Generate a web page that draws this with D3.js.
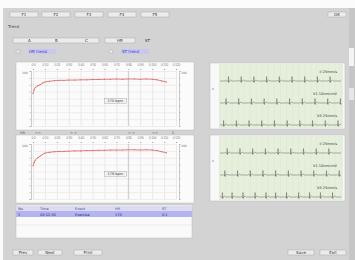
<!DOCTYPE html>
<html>
<head>
<meta charset="utf-8">
<script src="https://cdn.jsdelivr.net/npm/d3@7"></script>
<style>
  body { margin: 0; background: #fff; }
  svg { display: block; font-family: "DejaVu Sans", sans-serif; }
</style>
</head>
<body>
<script>
// trend data (minutes, rate)
var trendTimes = [0, 1, 2, 4, 6, 8, 10, 14, 18, 22, 26, 30, 35, 40, 45, 50, 55, 60, 65, 70, 75, 80, 85, 90, 95, 100, 104, 108, 112];
var trendA = [118, 132, 140, 146, 150, 156, 160, 163, 165, 166, 166, 167, 167, 168, 168, 169, 169, 170, 170, 171, 170, 171, 171, 170, 171, 170, 168, 164, 160];
var trendB = [121, 134, 142, 150, 156, 162, 167, 170, 172, 173, 173, 174, 175, 175, 176, 176, 177, 177, 178, 178, 178, 179, 179, 178, 179, 178, 176, 172, 168];
var xTicks = [0, 10, 20, 30, 40, 50, 60, 70, 80, 90, 100, 110, 120];
var yTicks = [0, 25, 50, 75, 100, 125, 150, 175, 200];

// ECG beat times (s) per lead
var leadBeats1 = [0.7, 1.75, 2.8, 3.85, 4.9, 5.95, 7.0, 8.05, 9.1];
var leadBeats2 = [0.5, 1.55, 2.6, 3.65, 4.7, 5.75, 6.8, 7.85, 8.9, 9.95];
var leadBeats3 = [0.3, 1.35, 2.4, 3.45, 4.5, 5.55, 6.6, 7.65, 8.7, 9.75];
var leadBeats4 = [0.6, 1.65, 2.7, 3.75, 4.8, 5.85, 6.9, 7.95, 9.0];
var leadBeats5 = [0.4, 1.45, 2.5, 3.55, 4.6, 5.65, 6.7, 7.75, 8.8, 9.85];
var leadBeats6 = [0.2, 1.0, 1.9, 2.9, 3.8, 4.6, 5.5, 6.5, 7.4, 8.3, 9.3];
// one beat shape: [offset s, amplitude mV]
var beatShape = [[-0.2, 0], [-0.14, 0.1], [-0.1, 0], [-0.04, 0], [-0.02, -0.15], [0, 1], [0.02, -0.35], [0.05, 0], [0.18, 0.2], [0.28, 0]];

var toolbar = ["F1", "F2", "F3", "F4", "F5"];
var ecgLabels = ["II  25mm/s", "V1  10mm/mV", "V5  25mm/s"];
var tableHead = ["No.", "Time", "Event", "HR", "ST"];
var tableRow = ["1", "00:12:30", "Exercise", "170", "0.1"];

var W = 355, H = 260;
var svg = d3.select("body").append("svg").attr("width", W).attr("height", H);

svg.append("rect").attr("width", W).attr("height", H).attr("fill", "#fbfbfb");
svg.append("rect").attr("x", 3).attr("y", 8).attr("width", 346).attr("height", 252).attr("fill", "#d3d3d3");
svg.append("rect").attr("x", 349).attr("y", 8).attr("width", 6).attr("height", 252).attr("fill", "#c6c6c6");
svg.append("rect").attr("x", 349).attr("y", 48).attr("width", 5).attr("height", 18).attr("fill", "#f4f4f4");
svg.append("rect").attr("x", 349).attr("y", 88).attr("width", 5).attr("height", 12).attr("fill", "#e6e6e6");

function button(x, y, w, h, label) {
  svg.append("rect").attr("x", x).attr("y", y).attr("width", w).attr("height", h)
    .attr("fill", "#ececec").attr("stroke", "#aaa").attr("stroke-width", 0.5);
  svg.append("text").attr("x", x + w / 2).attr("y", y + h / 2 + 1.5).attr("text-anchor", "middle")
    .attr("font-size", 4).attr("fill", "#333").text(label);
}

// toolbar
var tbX = [10, 42, 75, 108, 141];
toolbar.forEach(function(t, i) { button(tbX[i], 12, 28, 5, t); });
button(328, 12, 18, 5, "OK");
svg.append("text").attr("x", 8).attr("y", 28).attr("font-size", 4).attr("fill", "#444").text("Trend");
button(13, 38, 86, 5, "");
[["A", 28], ["B", 55], ["C", 85]].forEach(function(d) {
  svg.append("text").attr("x", d[1]).attr("y", 42).attr("font-size", 4).attr("fill", "#333").text(d[0]);
});
button(105, 38, 30, 5, "HR");
svg.append("text").attr("x", 145).attr("y", 42).attr("font-size", 4).attr("fill", "#333").text("ST");
// radios
[[18, 28, "HR trend"], [111, 121, "ST trend"]].forEach(function(d) {
  svg.append("circle").attr("cx", d[0]).attr("cy", 51.5).attr("r", 2).attr("fill", "#e8e8e8").attr("stroke", "#999").attr("stroke-width", 0.4);
  svg.append("rect").attr("x", d[1]).attr("y", 49).attr("width", 28).attr("height", 5).attr("fill", "#c8c8ee");
  svg.append("text").attr("x", d[1] + 1).attr("y", 52.8).attr("font-size", 4).attr("fill", "#3a3ad0").text(d[2]);
});

// trend charts
function trendChart(top, values, markText) {
  var box = { x: 16, y: top, w: 178, h: 68 };
  svg.append("rect").attr("x", box.x).attr("y", box.y).attr("width", box.w).attr("height", box.h)
    .attr("fill", "#fbfbfb").attr("stroke", "#bbb").attr("stroke-width", 0.5);
  var x = d3.scaleLinear().domain([0, 120]).range([33, 176]);
  var y = d3.scaleLinear().domain([0, 200]).range([top + 64, top + 9]);
  var g = svg.append("g");
  g.append("g").attr("transform", "translate(0," + (top + 64) + ")")
    .call(d3.axisBottom(x).tickValues(xTicks).tickSize(-55).tickFormat(""))
    .call(function(s) { s.select(".domain").remove(); s.selectAll("line").attr("stroke", "#d6d6d6").attr("stroke-width", 0.5); });
  g.append("g").attr("transform", "translate(33,0)")
    .call(d3.axisLeft(y).tickValues(yTicks).tickSize(-143).tickFormat(""))
    .call(function(s) { s.select(".domain").remove(); s.selectAll("line").attr("stroke", "#e6dcdc").attr("stroke-width", 0.5); });
  // top tick labels
  g.append("g").attr("transform", "translate(0," + (top + 8) + ")")
    .call(d3.axisTop(x).tickValues(xTicks).tickSize(1).tickFormat(function(d) { return "0:" + d; }))
    .call(function(s) { s.select(".domain").remove(); s.selectAll("text").attr("font-size", 3).attr("fill", "#777"); s.selectAll("line").attr("stroke", "#999"); });
  // left and right axes
  g.append("g").attr("transform", "translate(31,0)")
    .call(d3.axisLeft(y).tickValues(yTicks).tickSize(1.5).tickFormat(""))
    .call(function(s) { s.selectAll("path,line").attr("stroke", "#999").attr("stroke-width", 0.5); });
  g.append("g").attr("transform", "translate(179,0)")
    .call(d3.axisRight(y).tickValues(yTicks).tickSize(1.5).tickFormat(""))
    .call(function(s) { s.selectAll("path,line").attr("stroke", "#999").attr("stroke-width", 0.5); });
  g.append("text").attr("x", 22).attr("y", top + 12).attr("font-size", 3).attr("fill", "#777").text("200");
  g.append("text").attr("x", 181).attr("y", top + 12).attr("font-size", 3).attr("fill", "#777").text("200");
  var line = d3.line().x(function(d, i) { return x(trendTimes[i]); }).y(function(d) { return y(d); });
  g.append("path").attr("d", line(values)).attr("fill", "none").attr("stroke", "#e48080").attr("stroke-width", 1);
  g.selectAll(".pt").data(values).enter().append("circle")
    .attr("cx", function(d, i) { return x(trendTimes[i]); }).attr("cy", function(d) { return y(d); })
    .attr("r", 0.5).attr("fill", "#d05050");
  // marker
  var mx = x(80), my = y(90);
  g.append("line").attr("x1", mx).attr("x2", mx).attr("y1", top + 9).attr("y2", top + 64).attr("stroke", "#aaa").attr("stroke-width", 0.5);
  g.append("rect").attr("x", mx - 24).attr("y", my - 3).attr("width", 22).attr("height", 5).attr("fill", "#f2f2f2").attr("stroke", "#999").attr("stroke-width", 0.4);
  g.append("text").attr("x", mx - 13).attr("y", my + 1).attr("text-anchor", "middle").attr("font-size", 3.5).attr("fill", "#333").text(markText);
  return g;
}
trendChart(62, trendA, "170 bpm");
// controls between charts
[[20, "HR"], [35, "<<"], [70, "< >"], [128, "< >"], [152, ">>"], [172, "Σ"]].forEach(function(d) {
  svg.append("text").attr("x", d[0]).attr("y", 134).attr("font-size", 3.5).attr("fill", "#555").text(d[1]);
});
trendChart(135, trendB, "178 bpm");

// ECG panels
function ecgPanel(top, leads) {
  svg.append("rect").attr("x", 210).attr("y", top).attr("width", 135).attr("height", 66)
    .attr("fill", "#f8f8f8").attr("stroke", "#bbb").attr("stroke-width", 0.5);
  svg.append("rect").attr("x", 219).attr("y", top + 1).attr("width", 124).attr("height", 64).attr("fill", "#e6efdc");
  var x = d3.scaleLinear().domain([0, 10]).range([220, 341]);
  var g = svg.append("g");
  g.selectAll(".vg").data(d3.range(0, 10.01, 0.5)).enter().append("line")
    .attr("x1", x).attr("x2", x).attr("y1", top + 1).attr("y2", top + 65)
    .attr("stroke", "#d8e4cc").attr("stroke-width", 0.4);
  leads.forEach(function(beats, li) {
    var base = top + 18 + li * 22;
    var y = d3.scaleLinear().domain([-1, 1]).range([base + 4.5, base - 4.5]);
    var pts = [[0, 0]];
    beats.forEach(function(b) { beatShape.forEach(function(s) { pts.push([b + s[0], s[1]]); }); });
    pts.push([10, 0]);
    pts = pts.filter(function(p) { return p[0] >= 0 && p[0] <= 10; });
    g.append("path").attr("d", d3.line().x(function(p) { return x(p[0]); }).y(function(p) { return y(p[1]); })(pts))
      .attr("fill", "none").attr("stroke", "#555").attr("stroke-width", 0.45);
    g.append("text").attr("x", 337).attr("y", base - 8).attr("text-anchor", "end")
      .attr("font-size", 3.5).attr("fill", "#333").text(ecgLabels[li]);
  });
  g.append("text").attr("x", 212).attr("y", top + 27).attr("font-size", 3).attr("fill", "#666").text("II");
}
ecgPanel(63, [leadBeats1, leadBeats2, leadBeats3]);
ecgPanel(135, [leadBeats4, leadBeats5, leadBeats6]);

// table
svg.append("rect").attr("x", 16).attr("y", 205).attr("width", 176).attr("height", 33)
  .attr("fill", "#fafafa").attr("stroke", "#bbb").attr("stroke-width", 0.5);
svg.append("rect").attr("x", 16).attr("y", 206).attr("width", 176).attr("height", 5).attr("fill", "#dcdcf0");
svg.append("rect").attr("x", 16).attr("y", 211).attr("width", 176).attr("height", 6).attr("fill", "#b4b4ee");
var colX = [18, 40, 75, 115, 162];
tableHead.forEach(function(t, i) {
  svg.append("text").attr("x", colX[i]).attr("y", 210).attr("font-size", 3.5).attr("fill", "#4444aa").text(t);
});
tableRow.forEach(function(t, i) {
  svg.append("text").attr("x", colX[i]).attr("y", 215.5).attr("font-size", 3.5).attr("fill", "#222288").text(t);
});
svg.append("line").attr("x1", 16).attr("x2", 192).attr("y1", 225).attr("y2", 225).attr("stroke", "#ddd").attr("stroke-width", 0.5);

// bottom buttons
button(13, 250, 20, 5, "Prev");
button(38, 250, 24, 5, "Next");
button(74, 250, 28, 5, "Print");
button(288, 250, 26, 5, "Save");
button(320, 250, 26, 5, "Exit");
</script>
</body>
</html>
